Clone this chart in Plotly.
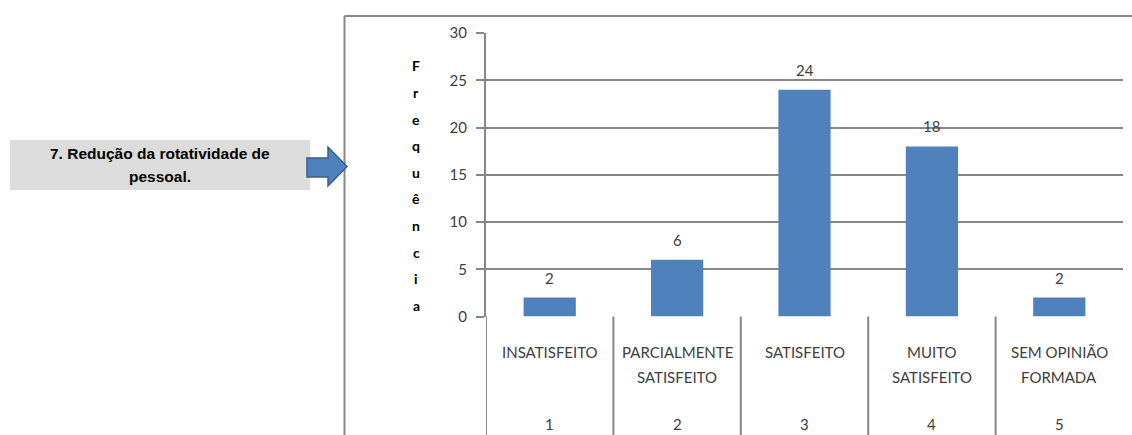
import plotly.graph_objects as go

# Survey item: frequency of answers per satisfaction level
codes = [1, 2, 3, 4, 5]
category_lines = [
    ["INSATISFEITO"],
    ["PARCIALMENTE", "SATISFEITO"],
    ["SATISFEITO"],
    ["MUITO", "SATISFEITO"],
    ["SEM OPINIÃO", "FORMADA"],
]
frequencies = [2, 6, 24, 18, 2]
y_ticks = [0, 5, 10, 15, 20, 25, 30]
y_title = "Frequência"
item_title_lines = ["7. Redução da rotatividade de", "pessoal."]

W, H = 1132, 435
GRID = "#878787"
BAR = "#4F81BD"
TXT = "#404040"
FONT = "Lato"


def px(x):
    return x / W


def py(y):
    return 1 - y / H


x_dom = [px(486), px(1123)]
y_dom = [py(316.5), py(33)]

fig = go.Figure()
fig.add_trace(go.Bar(
    x=codes, y=frequencies, width=0.41,
    marker=dict(color=BAR, line=dict(width=0)),
    hoverinfo="x+y",
))

annotations = []
# value labels above the bars
for c, v in zip(codes, frequencies):
    annotations.append(dict(
        x=c, y=v, xref="x", yref="y", text=str(v), showarrow=False,
        yshift=20, yanchor="middle", font=dict(family=FONT, size=15, color=TXT),
    ))

# category names and codes under the axis
line_y = [352, 377]
for c, lines in zip(codes, category_lines):
    for i, t in enumerate(lines):
        annotations.append(dict(
            x=c, y=py(line_y[i]), xref="x", yref="paper", text=t, showarrow=False,
            yanchor="middle", font=dict(family=FONT, size=15, color=TXT),
        ))
    annotations.append(dict(
        x=c, y=py(424), xref="x", yref="paper", text=str(c), showarrow=False,
        yanchor="middle", font=dict(family=FONT, size=15, color=TXT),
    ))

# stacked vertical axis title
for i, ch in enumerate(y_title):
    annotations.append(dict(
        x=px(416), y=py(66 + i * 26.6), xref="paper", yref="paper", text=ch,
        showarrow=False, xanchor="center", yanchor="middle",
        font=dict(family=FONT, size=14, color="#000000", weight="bold"),
    ))

# item caption inside the grey box
for i, t in enumerate(item_title_lines):
    annotations.append(dict(
        x=px(160), y=py(153 + i * 24), xref="paper", yref="paper", text=t,
        showarrow=False, xanchor="center", yanchor="middle",
        font=dict(family="Liberation Sans", size=15.5, color="#000000", weight="bold"),
    ))

shapes = []
# outer frame (left and top edges)
shapes.append(dict(type="line", xref="paper", yref="paper",
                   x0=px(344.5), x1=px(344.5), y0=py(16), y1=0,
                   line=dict(color=GRID, width=2)))
shapes.append(dict(type="line", xref="paper", yref="paper",
                   x0=px(344.5), x1=1, y0=py(16), y1=py(16),
                   line=dict(color=GRID, width=2)))
# category separators below the baseline
for b in [0.5, 1.5, 2.5, 3.5, 4.5]:
    shapes.append(dict(type="line", xref="x", yref="paper",
                       x0=b, x1=b, y0=y_dom[0], y1=0,
                       line=dict(color=GRID, width=2)))
# caption box
shapes.append(dict(type="rect", xref="paper", yref="paper",
                   x0=px(10), x1=px(310), y0=py(190), y1=py(140),
                   fillcolor="#DCDCDC", line=dict(width=0), layer="below"))
# arrow pointing to the chart
pts = [(307, 158), (328, 158), (328, 147), (347, 166.5), (328, 186), (328, 177), (307, 177)]
path = "M " + " L ".join(f"{px(x)},{py(y)}" for x, y in pts) + " Z"
shapes.append(dict(type="path", xref="paper", yref="paper", path=path,
                   fillcolor=BAR, line=dict(color="#385D8A", width=1.5)))

fig.update_layout(
    template="none",
    width=W, height=H,
    margin=dict(l=0, r=0, t=0, b=0, autoexpand=False),
    paper_bgcolor="white", plot_bgcolor="white",
    showlegend=False, bargap=0.59,
    font=dict(family=FONT, size=15, color=TXT),
    xaxis=dict(domain=x_dom, range=[0.5, 5.5], showticklabels=False,
               showgrid=False, zeroline=False, showline=False, ticks="",
               automargin=False),
    yaxis=dict(domain=y_dom, range=[0, 30], tickvals=y_ticks,
               showgrid=True, gridcolor=GRID, gridwidth=2, zeroline=False,
               showline=True, linecolor=GRID, linewidth=2,
               ticks="outside", ticklen=8, tickwidth=2, tickcolor=GRID,
               ticklabelstandoff=6, automargin=False,
               tickfont=dict(family=FONT, size=15, color=TXT)),
    annotations=annotations,
    shapes=shapes,
)

fig.write_html("out.html")
